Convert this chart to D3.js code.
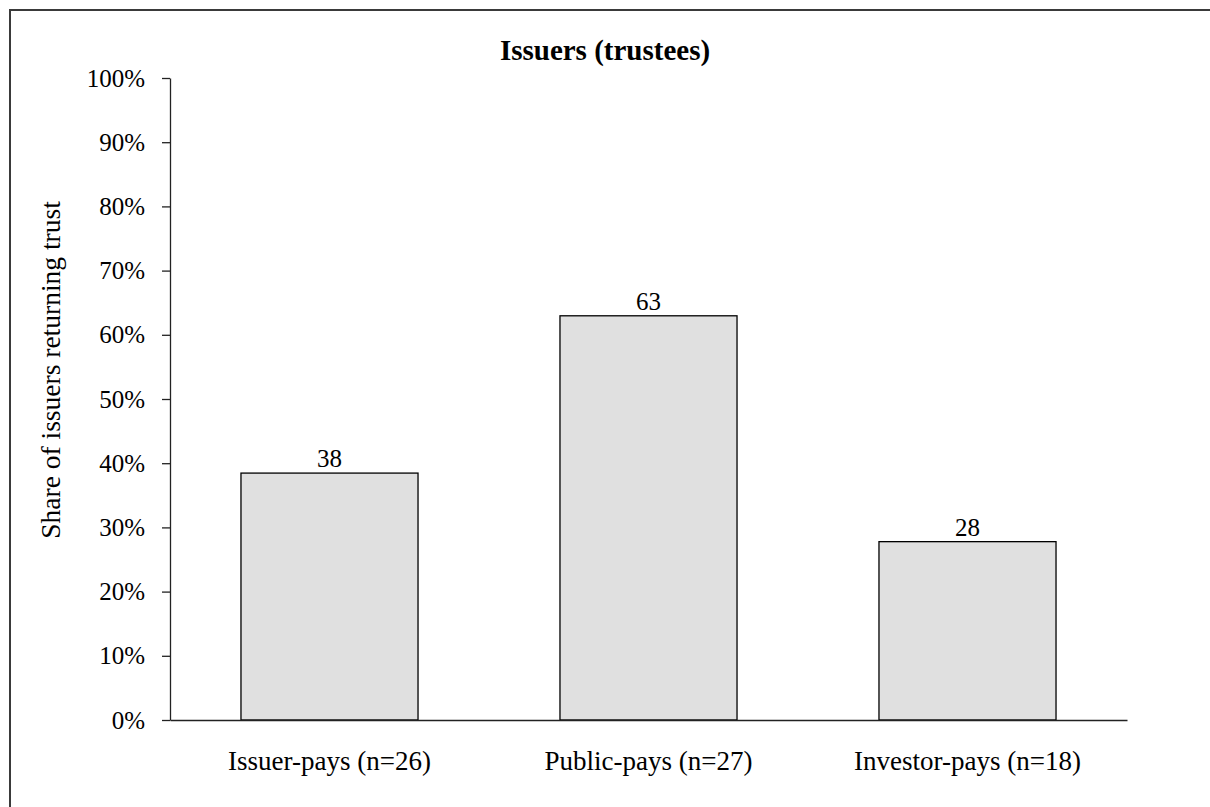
<!DOCTYPE html>
<html>
<head>
<meta charset="utf-8">
<script src="https://cdn.jsdelivr.net/npm/d3@7"></script>
<style>
  body { margin: 0; background: #fff; }
  svg text { font-family: "Liberation Serif", "Times New Roman", serif; fill: #000; }
</style>
</head>
<body>
<div id="chart"></div>
<script>
// chart data
var categories = ["Issuer-pays (n=26)", "Public-pays (n=27)", "Investor-pays (n=18)"];
var shares = [38.46, 62.96, 27.78];
var valueLabels = ["38", "63", "28"];
var yTicks = [0, 10, 20, 30, 40, 50, 60, 70, 80, 90, 100];

var width = 1210,
    height = 807;

var margin = {left: 170, right: 83, top: 78, bottom: 87};

var svg = d3.select("#chart").append("svg")
  .attr("width", width)
  .attr("height", height);

// outer frame
svg.append("rect")
  .attr("x", 10)
  .attr("y", 10)
  .attr("width", width)
  .attr("height", height)
  .attr("fill", "none")
  .attr("stroke", "#3a3a3a")
  .attr("stroke-width", 2);

var x = d3.scaleBand()
  .domain(categories)
  .range([margin.left, width - margin.right])
  .paddingInner(0.445)
  .paddingOuter(0.2225);

var y = d3.scaleLinear()
  .domain([0, 100])
  .range([height - margin.bottom, margin.top]);

// bars
svg.append("g")
  .selectAll("rect")
  .data(shares)
  .enter().append("rect")
  .attr("x", function(d, i) { return x(categories[i]); })
  .attr("y", function(d) { return y(d); })
  .attr("width", x.bandwidth())
  .attr("height", function(d) { return y(0) - y(d); })
  .attr("fill", "#e0e0e0")
  .attr("stroke", "#000")
  .attr("stroke-width", 1.3);

// value labels above bars
svg.append("g")
  .selectAll("text")
  .data(shares)
  .enter().append("text")
  .attr("x", function(d, i) { return x(categories[i]) + x.bandwidth() / 2; })
  .attr("y", function(d) { return y(d) - 6; })
  .attr("text-anchor", "middle")
  .attr("font-size", 25)
  .text(function(d, i) { return valueLabels[i]; });

// y axis
var yAxis = svg.append("g")
  .attr("transform", "translate(" + margin.left + ",0)")
  .call(d3.axisLeft(y)
    .tickValues(yTicks)
    .tickSize(8)
    .tickSizeOuter(0)
    .tickPadding(17)
    .tickFormat(function(d) { return d + "%"; }));

yAxis.selectAll("text")
  .attr("font-size", 25)
  .attr("font-family", "Liberation Serif, Times New Roman, serif")
  .attr("fill", "#000");
yAxis.selectAll("line, path").attr("stroke", "#222").attr("stroke-width", 1.3);

// x axis
var xAxis = svg.append("g")
  .attr("transform", "translate(0," + y(0) + ")")
  .call(d3.axisBottom(x)
    .tickSize(0)
    .tickSizeOuter(0)
    .tickPadding(31));

xAxis.selectAll("text")
  .attr("font-size", 27)
  .attr("font-family", "Liberation Serif, Times New Roman, serif")
  .attr("fill", "#000");
xAxis.selectAll("path").attr("stroke", "#222").attr("stroke-width", 1.3);

// title
svg.append("text")
  .attr("x", 605)
  .attr("y", 60)
  .attr("text-anchor", "middle")
  .attr("font-size", 29)
  .attr("font-weight", "bold")
  .text("Issuers (trustees)");

// y axis label
svg.append("text")
  .attr("transform", "translate(60," + 370 + ")rotate(-90)")
  .attr("text-anchor", "middle")
  .attr("font-size", 27.5)
  .text("Share of issuers returning trust");
</script>
</body>
</html>
